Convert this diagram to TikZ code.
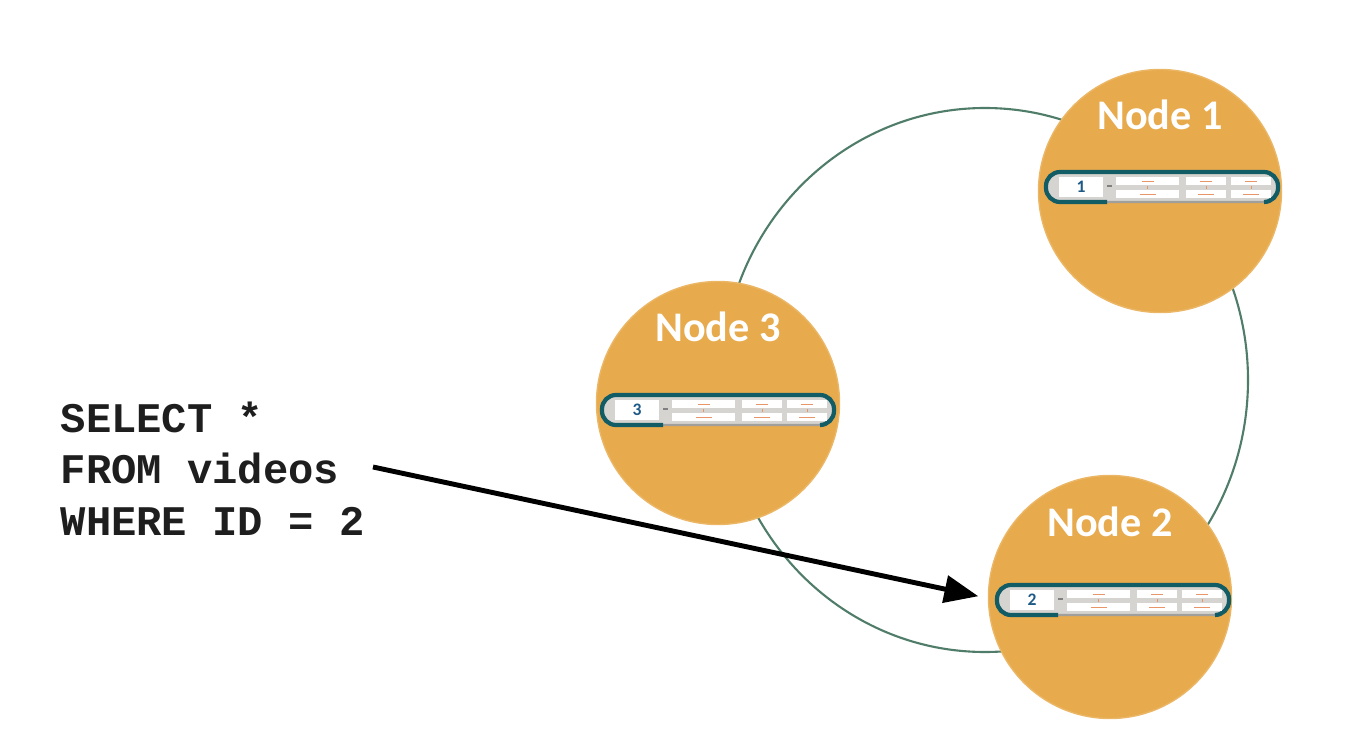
\documentclass[tikz,border=0pt]{standalone}
\usepackage{fontspec}
\setsansfont{Carlito}
\setmonofont{Liberation Mono}
\usetikzlibrary{arrows.meta}
\definecolor{nodegold}{RGB}{231,170,76}
\definecolor{ringgreen}{RGB}{80,125,105}
\definecolor{rowteal}{RGB}{18,92,102}
\definecolor{rowgray}{RGB}{214,212,208}
\definecolor{keyblue}{RGB}{30,90,135}
\definecolor{cellorange}{RGB}{232,150,105}
\definecolor{sqlink}{RGB}{30,30,30}
\tikzset{
dbnode/.style={circle, fill=nodegold, draw=nodegold!85!white, line width=0.4pt, minimum size=2.43cm, inner sep=0pt},
nodelabel/.style={text=white, font=\sffamily\bfseries\fontsize{12}{14}\selectfont},
ring/.style={draw=ringgreen, line width=0.6pt},
rowbar/.style={rectangle, rounded corners=0.15cm, minimum width=2.32cm, minimum height=0.30cm, inner sep=0pt, fill=rowgray, draw=rowgray!75!black, line width=0.6pt},
rowedge/.style={draw=rowteal, line width=1.2pt, rounded corners=0.14cm},
keybox/.style={rectangle, fill=white, minimum width=0.44cm, minimum height=0.20cm, inner sep=0pt, text=keyblue, font=\sffamily\bfseries\fontsize{5}{6}\selectfont},
cellmark/.style={draw=cellorange, line width=0.2pt},
sqltext/.style={anchor=base west, inner sep=0pt, text=sqlink, font=\ttfamily\bfseries\fontsize{12}{14}\selectfont},
query/.style={draw=black, line width=1.4pt, -{Triangle[length=0.34cm,width=0.27cm]}, shorten >=0.18cm}
}
\begin{document}
\begin{tikzpicture}
\useasboundingbox (0,0) rectangle (13.70,-7.36);
\path[ring] (9.85,-3.80) ellipse (2.63cm and 2.72cm);
\node[dbnode] (1) at (11.60,-1.91) {};
\node[dbnode] (3) at (7.18,-4.03) {};
\node[dbnode] (2) at (11.10,-5.97) {};
\node[nodelabel] (l1) at (11.60,-1.15) {Node 1};
\node[nodelabel] (l3) at (7.18,-3.27) {Node 3};
\node[nodelabel] (l2) at (11.10,-5.22) {Node 2};
\foreach \n/\x/\y in {1/11.62/-1.87,3/7.18/-4.10,2/11.13/-6.00}{
\begin{scope}[shift={(\x,\y)}]
\node[rowbar] (r\n) at (0,0) {};
\path[rowedge] (-0.55,-0.15) -- (-1.16,-0.15) -- (-1.16,0.15) -- (1.16,0.15) -- (1.16,-0.15) -- (1.02,-0.15);
\node[keybox] (key\n) at (-0.81,0) {\n};
\path[draw,gray,line width=0.5pt] (-0.55,0.01) -- (-0.50,0.01);
\foreach \a/\b in {-0.46/0.17,0.24/0.64,0.69/1.09}{
\path[fill=white] (\a,0.02) rectangle (\b,0.10);
\path[fill=white] (\a,-0.03) rectangle (\b,-0.11);
\path[cellmark] ({(\a+\b)/2-0.06},0.06) -- ({(\a+\b)/2+0.06},0.06);
\path[cellmark] ({(\a+\b)/2},0.01) -- ({(\a+\b)/2},-0.02);
\path[cellmark] ({(\a+\b)/2-0.08},-0.07) -- ({(\a+\b)/2+0.08},-0.07);
}
\end{scope}}
\node[sqltext] (s1) at (0.60,-4.32) {SELECT *};
\node[sqltext] (s2) at (0.60,-4.83) {FROM videos};
\node[sqltext] (s3) at (0.60,-5.35) {WHERE ID = 2};
\coordinate (q) at (3.73,-4.67);
\path[query] (q) -- (r2.west);
\end{tikzpicture}
\end{document}
